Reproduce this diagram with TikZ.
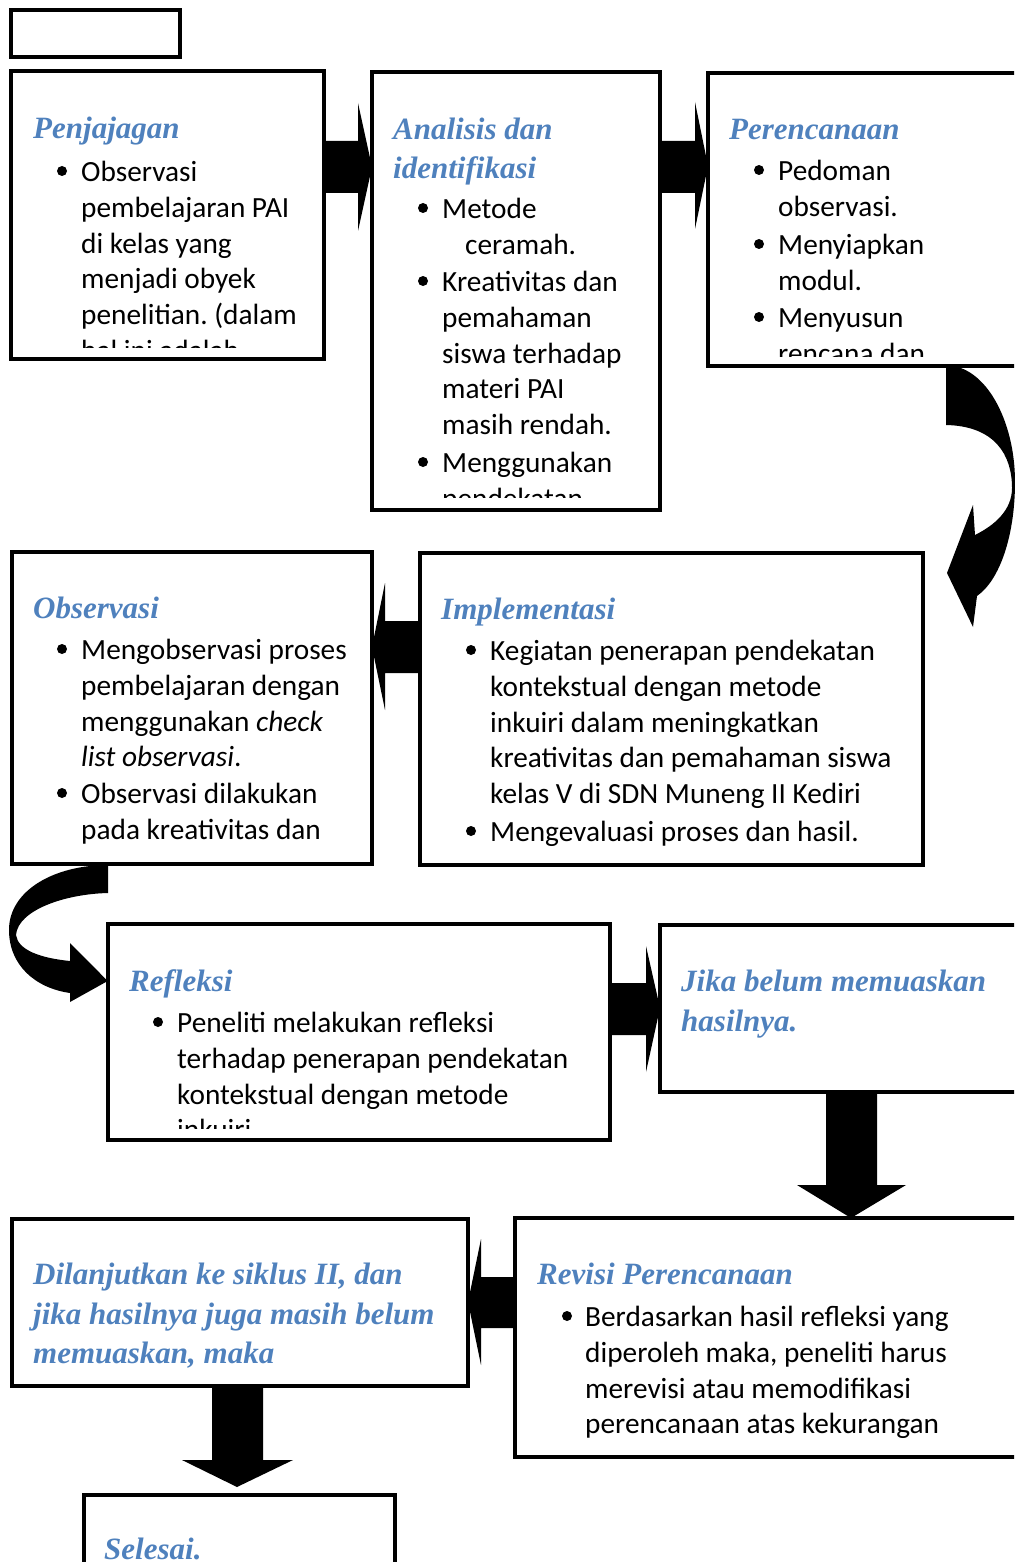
\documentclass[tikz,border=0pt]{standalone}
\usepackage{fontspec}
\setmainfont{Carlito}
\newfontfamily\judulfont{Liberation Serif}
\usetikzlibrary{calc}
\definecolor{birujudul}{RGB}{79,129,189}
\frenchspacing

\begin{document}
\begin{tikzpicture}[x=1pt,y=-1pt]
\tikzstyle{kotak} = [draw,line width=4pt,inner sep=0pt,outer sep=0pt]
\tikzstyle{judul} = [anchor=base west,inner sep=0pt,yshift=-1.5pt,align=left,text=birujudul,font=\judulfont\bfseries\itshape\fontsize{31}{39.5}\selectfont]
\tikzstyle{isi} = [anchor=base west,inner sep=0pt,yshift=-1.5pt,align=left,font=\fontsize{29.3}{35.8}\selectfont]
\tikzstyle{titik} = [fill,shape=circle,inner sep=0pt,minimum size=10pt]
\tikzstyle{panah} = [fill=black]

\pgfdeclarelayer{background}
\pgfsetlayers{background,main}

\useasboundingbox (0,0) rectangle (1014,1562);
\clip (0,0) rectangle (1014,1562);

% kotak-kotak
\node[kotak,minimum width=168.2pt,minimum height=46.5pt] (kosong) at (95.4,33.75) {};
\node[kotak,minimum width=312.7pt,minimum height=287.7pt] (pen) at (167.65,215.15) {};
\node[kotak,minimum width=288pt,minimum height=437.7pt] (ana) at (516,290.85) {};
\node[kotak,minimum width=332pt,minimum height=292.5pt] (per) at (874,219.25) {};
\node[kotak,minimum width=360.3pt,minimum height=312pt] (obs) at (191.85,708) {};
\node[kotak,minimum width=503pt,minimum height=312.5pt] (imp) at (671.5,708.75) {};
\node[kotak,minimum width=502.3pt,minimum height=216pt] (ref) at (358.85,1032) {};
\node[kotak,minimum width=380pt,minimum height=167pt] (jika) at (850,1008.5) {};
\node[kotak,minimum width=456.3pt,minimum height=167pt] (lan) at (239.85,1302.5) {};
\node[kotak,minimum width=525pt,minimum height=239pt] (rev) at (777.5,1337.5) {};
\node[kotak,minimum width=310.8pt,minimum height=105.3pt] (sel) at (239.1,1547.35) {};

% base west = baris terakhir
% Penjajagan
\begin{scope}
\clip (pen.north west) rectangle (324,347);
\node[judul] (pen-j) at (33,137) {Penjajagan};
\node[titik] (pen-t1) at (62,171) {};
\node[isi] (pen-1) at (81,359) {Observasi\\pembelajaran PAI\\di kelas yang\\menjadi obyek\\penelitian. (dalam\\hal ini adalah};
\end{scope}

% Analisis dan identifikasi
\begin{scope}
\clip (ana.north west) rectangle (660,497);
\node[judul] (ana-j) at (393,177.5) {Analisis dan\\identifikasi};
\node[titik] (ana-t1) at (423,208) {};
\node[isi] (ana-1) at (442,252.8) {Metode\\\hspace*{23pt}ceramah.};
\node[titik] (ana-t2) at (423,281) {};
\node[isi] (ana-2) at (442,433.2) {Kreativitas dan\\pemahaman\\siswa terhadap\\materi PAI\\masih rendah.};
\node[titik] (ana-t3) at (423,462) {};
\node[isi] (ana-3) at (442,506.8) {Menggunakan\\pendekatan};
\end{scope}

% Perencanaan
\begin{scope}
\clip (per.north west) rectangle (1014,356);
\node[judul] (per-j) at (729,138) {Perencanaan};
\node[titik] (per-t1) at (759,170) {};
\node[isi] (per-1) at (778,214.8) {Pedoman\\observasi.};
\node[titik] (per-t2) at (759,244) {};
\node[isi] (per-2) at (778,288.8) {Menyiapkan\\modul.};
\node[titik] (per-t3) at (759,317) {};
\node[isi] (per-3) at (778,361.8) {Menyusun\\rencana dan};
\end{scope}

% Observasi
\node[judul] (obs-j) at (33,617) {Observasi};
\node[titik] (obs-t1) at (62,649) {};
\node[isi] (obs-1) at (81,765.4) {Mengobservasi proses\\pembelajaran dengan\\menggunakan \textit{check}\\\textit{list observasi}.};
\node[titik] (obs-t2) at (62,793) {};
\node[isi] (obs-2) at (81,837.8) {Observasi dilakukan\\pada kreativitas dan};

% Implementasi
\node[judul] (imp-j) at (441,618) {Implementasi};
\node[titik] (imp-t1) at (471,650) {};
\node[isi] (imp-1) at (490,802.2) {Kegiatan penerapan pendekatan\\kontekstual dengan metode\\inkuiri dalam meningkatkan\\kreativitas dan pemahaman siswa\\kelas V di SDN Muneng II Kediri};
\node[titik] (imp-t2) at (471,831) {};
\node[isi] (imp-2) at (490,840) {Mengevaluasi proses dan hasil.};

% Refleksi
\begin{scope}
\clip (ref.north west) rectangle (610,1128);
\node[judul] (ref-j) at (129,990) {Refleksi};
\node[titik] (ref-t1) at (158,1022) {};
\node[isi] (ref-1) at (177,1138.4) {Peneliti melakukan refleksi\\terhadap penerapan pendekatan\\kontekstual dengan metode\\inkuiri};
\end{scope}

% Jika belum memuaskan
\node[judul] (jika-j) at (681,1029.5) {Jika belum memuaskan\\hasilnya.};

% Dilanjutkan
\node[judul] (lan-j) at (33,1362) {Dilanjutkan ke siklus II, dan\\jika hasilnya juga masih belum\\memuaskan, maka};

% Revisi Perencanaan
\node[judul] (rev-j) at (537,1283) {Revisi Perencanaan};
\node[titik] (rev-t1) at (567,1316) {};
\node[isi] (rev-1) at (585,1432.4) {Berdasarkan hasil refleksi yang\\diperoleh maka, peneliti harus\\merevisi atau memodifikasi\\perencanaan atas kekurangan};

% Selesai
\node[judul] (sel-j) at (104,1558) {Selesai.};

\begin{pgfonlayer}{background}
% pen -> ana
\fill[panah] (pen.east |- 0,141) -- (358,141) -- (358,103) -- (ana.west |- 0,167) -- (358,231) -- (358,193) -- (pen.east |- 0,193) -- cycle;
% ana -> per
\fill[panah] (ana.east |- 0,141) -- (695,141) -- (695,102) -- (per.west |- 0,166) -- (695,229) -- (695,193) -- (ana.east |- 0,193) -- cycle;
% per -> imp
\fill[panah] (946,0 |- per.south) .. controls (985,365) and (1015,420) .. (1015,482) .. controls (1015,535) and (1000,580) .. (977,596) -- (973,627) -- (947,573) -- (973,505) -- (975,535) .. controls (995,525) and (1012,510) .. (1012,488) .. controls (1012,455) and (995,426) .. (946,425) -- cycle;
% imp -> obs
\fill[panah] (imp.west |- 0,621) -- (385,621) -- (385,583) -- (obs.east |- 0,647) -- (385,710) -- (385,673) -- (imp.west |- 0,673) -- cycle;
% obs -> ref
\fill[panah] (108,0 |- obs.south) -- (108,893) .. controls (65,894) and (18,910) .. (16,935) .. controls (18,950) and (40,958) .. (70,961) -- (70,943) -- (ref.west |- 0,981) -- (70,1002) -- (70,993) .. controls (35,988) and (9,965) .. (9,930) .. controls (9,890) and (55,865) .. (108,865) -- cycle;
% ref -> jika
\fill[panah] (ref.east |- 0,983) -- (646,983) -- (646,946) -- (jika.west |- 0,1008) -- (646,1072) -- (646,1035) -- (ref.east |- 0,1035) -- cycle;
% jika -> rev
\fill[panah] (826,0 |- jika.south) -- (826,1185) -- (797,1185) -- (851,0 |- rev.north) -- (906,1185) -- (877,1185) -- (877,0 |- jika.south) -- cycle;
% rev -> lan
\fill[panah] (rev.west |- 0,1277) -- (481,1277) -- (481,1239) -- (lan.east |- 0,1302) -- (481,1365) -- (481,1328) -- (rev.west |- 0,1328) -- cycle;
% lan -> sel
\fill[panah] (212,0 |- lan.south) -- (212,1460) -- (182,1460) -- (237,1487) -- (293,1460) -- (263,1460) -- (263,0 |- lan.south) -- cycle;
\end{pgfonlayer}

\end{tikzpicture}
\end{document}
